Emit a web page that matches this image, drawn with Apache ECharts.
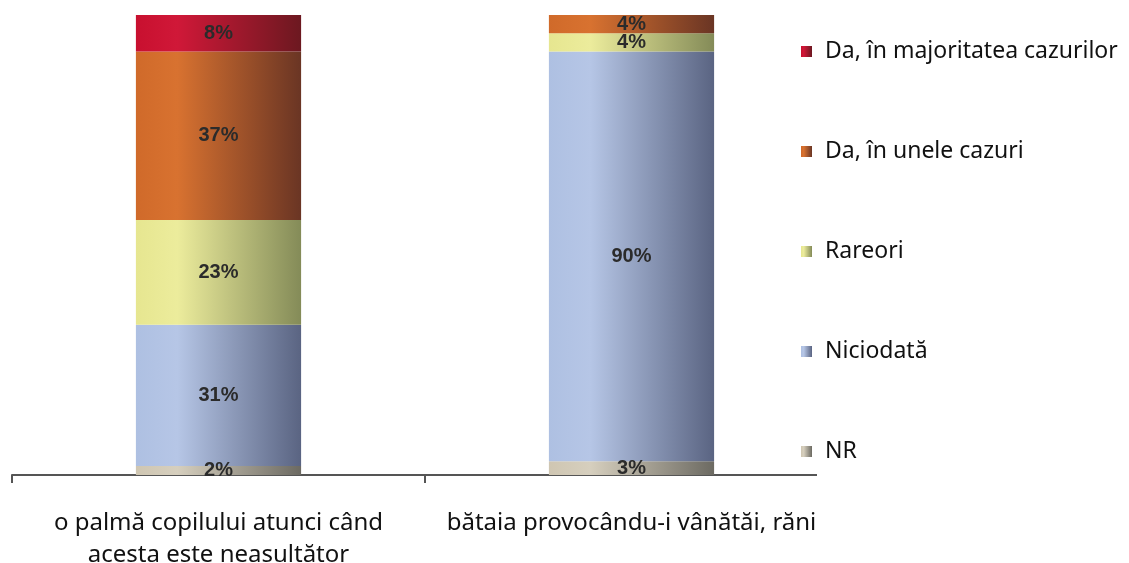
<!DOCTYPE html>
<html>
<head>
<meta charset="utf-8">
<script src="https://cdn.jsdelivr.net/npm/echarts@6/dist/echarts.min.js"></script>
<style>
  html, body { margin: 0; padding: 0; background: #fff; }
  #chart { width: 1129px; height: 563px; }
</style>
</head>
<body>
<div id="chart"></div>
<script>
// categorii
const categories = ['o palmă copilului atunci când\nacesta este neasultător', 'bătaia provocându-i vânătăi, răni']
// procente, de jos in sus
const nrData = [2, 3]
const niciodataData = [31, 90]
const rareoriData = [23, 4]
const uneleData = [37, 4]
const majoritateaData = [8, 0]

const seriesNames = ['NR', 'Niciodată', 'Rareori', 'Da, în unele cazuri', 'Da, în majoritatea cazurilor']

// gradient stanga -> dreapta, ca in Excel
function grad(c1, c2, c3){
    return new echarts.graphic.LinearGradient(0, 0, 1, 0, [
        {offset: 0, color: c1},
        {offset: 0.25, color: c2},
        {offset: 1, color: c3}
    ])
}

let colors = [
    grad('#cfc6b2', '#d6cfbe', '#6c6a62'),
    grad('#aec0e2', '#b6c6e6', '#5a6482'),
    grad('#e6e690', '#ecec9c', '#848b58'),
    grad('#d06a2a', '#d87230', '#6a3524'),
    grad('#c8102f', '#d01838', '#6c1820')
]

let chart = echarts.init(document.getElementById('chart'))

let dataSets = [nrData, niciodataData, rareoriData, uneleData, majoritateaData]

let series = dataSets.map((d, i) => {
    return {
        name: seriesNames[i],
        type: 'bar',
        stack: 'total',
        barWidth: '40%',
        data: d,
        itemStyle: { color: colors[i] },
        label: {
            show: true,
            position: 'inside',
            formatter: p => p.value > 0 ? p.value + '%' : '',
            fontFamily: 'Liberation Sans, Arial',
            fontWeight: 'bold',
            fontSize: 20,
            color: '#2b2b2b'
        }
    }
})

let option = {
    animation: false,
    backgroundColor: '#fff',
    grid: {
        left: 12,
        right: 291,
        top: 15,
        bottom: 88,
        outerBoundsMode: 'none'
    },
    legend: {
        orient: 'vertical',
        left: 796,
        top: 35,
        itemWidth: 11,
        itemHeight: 11,
        itemGap: 77,
        icon: 'rect',
        data: seriesNames.slice().reverse(),
        textStyle: {
            fontFamily: 'Noto Sans',
            fontSize: 23,
            color: '#111',
            padding: [0, 0, 0, 8]
        }
    },
    xAxis: {
        type: 'category',
        data: categories,
        axisLine: { lineStyle: { color: '#555', width: 2 } },
        axisTick: { show: true, length: 8, lineStyle: { color: '#555', width: 2 } },
        axisLabel: {
            interval: 0,
            margin: 32,
            fontFamily: 'Noto Sans',
            fontSize: 24,
            lineHeight: 32,
            color: '#111'
        }
    },
    yAxis: {
        type: 'value',
        min: 0,
        max: 101,
        show: false
    },
    // legenda acopera capatul axei
    graphic: [{
        type: 'rect',
        z: 10,
        shape: { x: 817, y: 468, width: 40, height: 25 },
        style: { fill: '#fff' }
    }],
    series: series
}

chart.setOption(option)
</script>
</body>
</html>
